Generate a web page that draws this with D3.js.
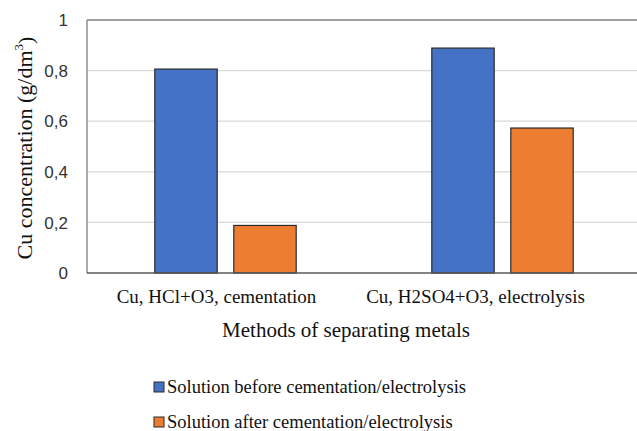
<!DOCTYPE html>
<html>
<head>
<meta charset="utf-8">
<script src="https://cdn.jsdelivr.net/npm/d3@7"></script>
<style>
  body { margin: 0; background: #fff; }
  svg { display: block; }
</style>
</head>
<body>
<div class="chart"></div>
<script>
// data
var categories = ["Cu, HCl+O3, cementation", "Cu, H2SO4+O3, electrolysis"];
var seriesNames = ["Solution before cementation/electrolysis", "Solution after cementation/electrolysis"];
var beforeValues = [0.806, 0.889];
var afterValues = [0.188, 0.573];
var yTicks = [0, 0.2, 0.4, 0.6, 0.8, 1];

var width = 637, height = 431;
var plotLeft = 87, plotTop = 20, plotRight = 641, plotBottom = 273;

var svg = d3.select("div.chart").append("svg").attr("width", width).attr("height", height);

var x = d3.scaleBand().domain(categories).range([plotLeft, plotRight]);
var xs = d3.scaleBand().domain([0, 1]).range([0, 141.4]).paddingInner(0.21);
var y = d3.scaleLinear().domain([0, 1]).range([plotBottom, plotTop]);
var color = d3.scaleOrdinal().domain([0, 1]).range(["#4472C4", "#ED7D31"]);

// grid
svg.append("g").selectAll("line")
  .data(yTicks.filter(function(d) { return d > 0 && d < 1; }))
  .enter().append("line")
  .attr("x1", plotLeft).attr("x2", plotRight)
  .attr("y1", function(d) { return y(d); }).attr("y2", function(d) { return y(d); })
  .attr("stroke", "#d9d9d9").attr("stroke-width", 1.3);

// frame lines
svg.append("line").attr("x1", plotLeft).attr("x2", plotRight).attr("y1", y(1)).attr("y2", y(1))
  .attr("stroke", "#7f7f7f").attr("stroke-width", 1.3);
svg.append("line").attr("x1", plotLeft).attr("x2", plotLeft).attr("y1", y(1)).attr("y2", y(0))
  .attr("stroke", "#7f7f7f").attr("stroke-width", 1.3);

// bars
var rows = [];
categories.forEach(function(c, i) {
  rows.push({ cat: c, s: 0, v: beforeValues[i] });
  rows.push({ cat: c, s: 1, v: afterValues[i] });
});
var groupOffset = (x.bandwidth() - 141.4) / 2;

svg.append("g").selectAll("rect")
  .data(rows)
  .enter().append("rect")
  .attr("x", function(d) { return x(d.cat) + groupOffset + xs(d.s); })
  .attr("y", function(d) { return y(d.v); })
  .attr("width", xs.bandwidth())
  .attr("height", function(d) { return y(0) - y(d.v); })
  .attr("fill", function(d) { return color(d.s); })
  .attr("stroke", "#2b2b2b").attr("stroke-width", 1.2);

// bottom axis line
svg.append("line").attr("x1", plotLeft).attr("x2", plotRight).attr("y1", y(0)).attr("y2", y(0))
  .attr("stroke", "#595959").attr("stroke-width", 1.3);

// y tick labels
svg.append("g").selectAll("text")
  .data(yTicks)
  .enter().append("text")
  .attr("x", 68)
  .attr("y", function(d) { return y(d); })
  .attr("dy", "0.36em")
  .attr("text-anchor", "end")
  .attr("font-family", "Liberation Sans, Arial, sans-serif")
  .attr("font-size", "17px")
  .attr("fill", "#333")
  .text(function(d) { return d3.format("")(d).replace(".", ","); });

// x labels
var labelNudge = [-9, -27];
svg.append("g").selectAll("text")
  .data(categories)
  .enter().append("text")
  .attr("x", function(d, i) { return x(d) + x.bandwidth() / 2 + labelNudge[i]; })
  .attr("y", 303)
  .attr("text-anchor", "middle")
  .attr("font-family", "Liberation Serif, Times New Roman, serif")
  .attr("font-size", "19px")
  .attr("fill", "#111")
  .text(function(d) { return d; });

// axis titles
svg.append("text")
  .attr("x", 346).attr("y", 337)
  .attr("text-anchor", "middle")
  .attr("font-family", "Liberation Serif, Times New Roman, serif")
  .attr("font-size", "21px")
  .attr("fill", "#111")
  .text("Methods of separating metals");

var yt = svg.append("text")
  .attr("transform", "translate(32,148) rotate(-90)")
  .attr("text-anchor", "middle")
  .attr("font-family", "Liberation Serif, Times New Roman, serif")
  .attr("font-size", "22px")
  .attr("fill", "#111");
yt.append("tspan").text("Cu concentration (g/dm");
yt.append("tspan").attr("font-size", "13px").attr("dy", "-0.7em").text("3");
yt.append("tspan").attr("dy", "0.45em").text(")");

// legend
var lg = svg.append("g").selectAll("g")
  .data(seriesNames)
  .enter().append("g")
  .attr("transform", function(d, i) { return "translate(154," + (382 + i * 35) + ")"; });
lg.append("rect").attr("width", 10).attr("height", 10)
  .attr("fill", function(d, i) { return color(i); })
  .attr("stroke", "#2b2b2b").attr("stroke-width", 1);
lg.append("text").attr("x", 13).attr("y", 11)
  .attr("font-family", "Liberation Serif, Times New Roman, serif")
  .attr("font-size", "18.5px")
  .attr("fill", "#111")
  .text(function(d) { return d; });
</script>
</body>
</html>
